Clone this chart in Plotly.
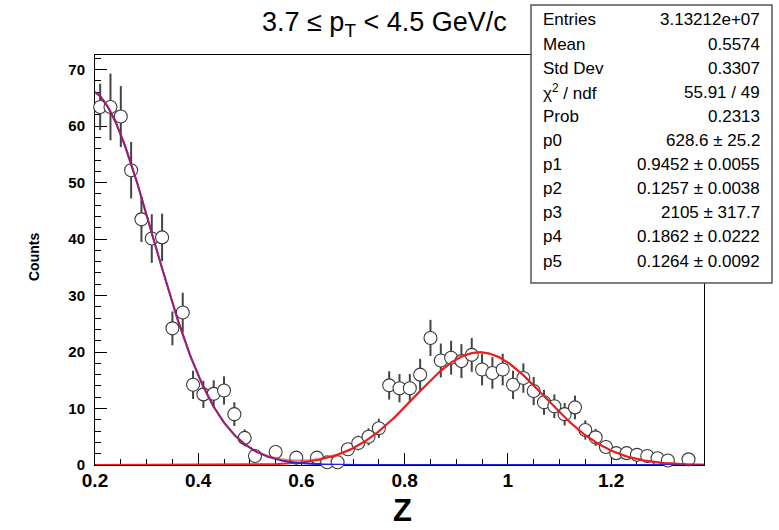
import math
import numpy as np
import plotly.graph_objects as go

# ---------------- data ----------------
bin_centers = [round(0.21 + 0.02 * k, 2) for k in range(58)]
counts = [63.4, 63.4, 61.7, 52.2, 43.5, 40.1, 40.3, 24.2, 27.0, 14.2,
          12.5, 12.6, 13.2, 9.0, 4.8, 1.6, None, 2.3, None, 1.3,
          None, 1.3, 0.5, 0.5, 2.8, 3.9, 5.0, 6.5, 14.1, 13.6,
          13.6, 16.0, 22.5, 18.5, 19.0, 18.4, 19.5, 16.9, 16.3, 16.9,
          14.2, 15.4, 13.1, 11.1, 10.4, 9.0, 10.2, 6.2, 4.9, 3.2,
          2.1, 2.1, 1.8, 1.6, 1.2, 0.8, None, 1.0]
errors = [4.1, 5.9, 5.4, 5.0, 4.0, 4.3, 4.2, 3.0, 3.5, 2.5,
          2.4, 2.4, 2.5, 2.1, 1.5, 0.9, None, 1.0, None, 0.8,
          None, 0.8, 0.5, 0.5, 1.1, 1.3, 1.5, 1.7, 2.5, 2.5,
          2.5, 2.8, 3.2, 3.0, 3.0, 3.0, 3.0, 2.8, 2.8, 2.8,
          2.5, 2.6, 2.5, 2.2, 2.1, 2.0, 2.1, 1.7, 1.5, 1.2,
          1.0, 1.0, 0.9, 0.9, 0.8, 0.6, None, 0.7]

# fit parameters printed in the stats box
fit_p = [628.6, 0.9452, 0.1257, 2105.0, 0.1862, 0.1264]
fit_scale = 0.01

stats_labels = ["Entries", "Mean", "Std Dev", "χ<sup>2</sup> / ndf", "Prob",
                "p0", "p1", "p2", "p3", "p4", "p5"]
stats_values = ["3.13212e+07", "0.5574", "0.3307", "55.91 / 49", "0.2313",
                "628.6 ± 25.2", "0.9452 ± 0.0055", "0.1257 ± 0.0038",
                "2105 ± 317.7", "0.1862 ± 0.0222", "0.1264 ± 0.0092"]

title_text = "3.7 ≤ p<sub>T</sub> &lt; 4.5 GeV/c"
x_title = "Z"
y_title = "Counts"
x_range = [0.2, 1.38]
y_range = [0, 72.6]

# ---------------- layout geometry (pixels) ----------------
W, H = 779, 530
L, R, T, B = 95, 704, 55, 465
FONT = "Liberation Sans, Arial, Helvetica, sans-serif"


def px(xp):
    return (xp - L) / (R - L)


def py(yp):
    return (B - yp) / (B - T)


# ---------------- build ----------------
xs = [x for x, c in zip(bin_centers, counts) if c is not None]
ys = [c for c in counts if c is not None]
es = [e for e, c in zip(errors, counts) if c is not None]


def gaus(x, n, mu, sg):
    return n * fit_scale / (math.sqrt(2 * math.pi) * sg) * np.exp(-0.5 * ((x - mu) / sg) ** 2)


xf = np.linspace(x_range[0], x_range[1], 400)
sig = gaus(xf, fit_p[0], fit_p[1], fit_p[2])
bkg = gaus(xf, fit_p[3], fit_p[4], fit_p[5])
tot = sig + bkg

fig = go.Figure()
fig.add_trace(go.Scatter(
    x=xs, y=ys, mode="markers",
    marker=dict(symbol="circle", size=13, color="white",
                line=dict(color="#3a3a3a", width=1.1)),
    error_y=dict(type="data", array=es, color="#444444", thickness=2, width=0),
    cliponaxis=False, showlegend=False, hoverinfo="skip"))
fig.add_trace(go.Scatter(x=xf, y=sig, mode="lines", hoverinfo="skip",
                         line=dict(color="#ee1c1c", width=2), showlegend=False))
fig.add_trace(go.Scatter(x=xf, y=bkg, mode="lines", hoverinfo="skip",
                         line=dict(color="#2424d8", width=2), showlegend=False))
fig.add_trace(go.Scatter(x=xf, y=tot, mode="lines", opacity=0.6, hoverinfo="skip",
                         line=dict(color="#ee1c1c", width=2), showlegend=False))

fig.update_xaxes(range=x_range, showline=True, mirror=True, linecolor="black",
                 linewidth=1, showgrid=False, zeroline=False,
                 ticks="inside", ticklen=12, tickcolor="black", tickwidth=1,
                 tick0=0.2, dtick=0.2, tickformat="~g", ticklabelstandoff=-2,
                 tickfont=dict(family=FONT, size=19, color="black", weight="bold"),
                 minor=dict(ticks="inside", ticklen=6, dtick=0.05, tick0=0.2,
                            tickcolor="black", tickwidth=1, showgrid=False),
                 layer="below traces")
fig.update_yaxes(range=y_range, showline=True, mirror=True, linecolor="black",
                 linewidth=1, showgrid=False, zeroline=False,
                 ticks="inside", ticklen=12, tickcolor="black", tickwidth=1,
                 tick0=0, dtick=10, ticklabelstandoff=6,
                 tickfont=dict(family=FONT, size=15, color="black", weight="bold"),
                 minor=dict(ticks="inside", ticklen=6, dtick=2,
                            tickcolor="black", tickwidth=1, showgrid=False),
                 layer="below traces")

annots = []
annots.append(dict(x=px(384), y=py(24), xref="paper", yref="paper",
                   text=title_text, showarrow=False, xanchor="center", yanchor="middle",
                   font=dict(family=FONT, size=27, color="black")))
annots.append(dict(x=px(402), y=py(510), xref="paper", yref="paper",
                   text=x_title, showarrow=False, xanchor="center", yanchor="middle",
                   font=dict(family=FONT, size=31, color="black", weight="bold")))
annots.append(dict(x=px(34), y=py(257), xref="paper", yref="paper",
                   text=y_title, showarrow=False, xanchor="center", yanchor="middle",
                   textangle=-90,
                   font=dict(family=FONT, size=14, color="black", weight="bold")))

# stats box
bx0, bx1, by0, by1 = 531, 772, 5, 283
shapes = [dict(type="rect", xref="paper", yref="paper",
               x0=px(bx0), x1=px(bx1), y0=py(by1), y1=py(by0),
               fillcolor="white", line=dict(color="#555555", width=1.5), layer="above")]
stat_font = dict(family=FONT, size=17, color="black")
for i, (lab, val) in enumerate(zip(stats_labels, stats_values)):
    yc = 20 + 24.1 * i
    annots.append(dict(x=px(541), y=py(yc), xref="paper", yref="paper", text=lab,
                       showarrow=False, xanchor="left", yanchor="middle", font=stat_font))
    annots.append(dict(x=px(762), y=py(yc), xref="paper", yref="paper", text=val,
                       showarrow=False, xanchor="right", yanchor="middle", font=stat_font))

fig.update_layout(width=W, height=H, margin=dict(l=L, r=W - R, t=T, b=H - B, pad=0),
                  paper_bgcolor="white", plot_bgcolor="white", hovermode=False,
                  annotations=annots, shapes=shapes, showlegend=False)

fig.write_html("out.html", config={"displayModeBar": False},
               post_script="document.body.style.margin='0px';document.body.style.padding='0px';")
